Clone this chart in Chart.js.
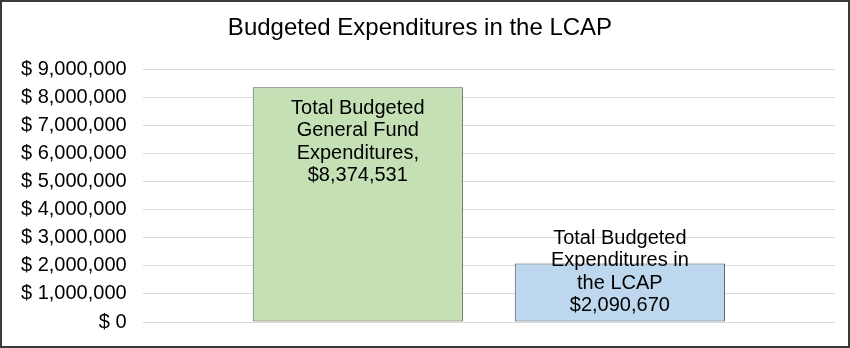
<!DOCTYPE html>
<html>
<head>
<meta charset="utf-8">
<script src="https://cdn.jsdelivr.net/npm/chart.js@4/dist/chart.umd.min.js"></script>
<style>
  html, body { margin: 0; padding: 0; background: #fff; }
  #wrap { position: relative; width: 850px; height: 348px; }
  #frame { position: absolute; left: 0; top: 0; width: 850px; height: 348px;
           box-sizing: border-box; border: 2px solid #3a3a3a; pointer-events: none; }
</style>
</head>
<body>
<div id="wrap">
  <canvas id="myChart" width="850" height="348"></canvas>
  <div id="frame"></div>
</div>
<script>
// Budgeted expenditures, two series in a single category
const categories = [''];
const seriesNames = ['Total Budgeted General Fund Expenditures', 'Total Budgeted Expenditures in the LCAP'];
const generalFund = [8374531];
const lcap = [2090670];
const barLabels = [
    ['Total Budgeted', 'General Fund', 'Expenditures,', '$8,374,531'],
    ['Total Budgeted', 'Expenditures in', 'the LCAP', '$2,090,670']
];
const yTicks = [0, 1000000, 2000000, 3000000, 4000000, 5000000, 6000000, 7000000, 8000000, 9000000];

const FONT = "'Liberation Sans', Arial, sans-serif";

// draws the multi-line labels on each bar
const barTextPlugin = {
    id: 'barText',
    afterDatasetsDraw(chart, args, opts) {
        const ctx = chart.ctx;
        ctx.save();
        ctx.font = '20px ' + FONT;
        ctx.fillStyle = '#000';
        ctx.textAlign = 'center';
        ctx.textBaseline = 'middle';
        chart.data.datasets.forEach((ds, i) => {
            const bar = chart.getDatasetMeta(i).data[0];
            const lines = barLabels[i];
            let y = bar.y + opts.offsets[i];
            lines.forEach(line => {
                ctx.fillText(line, bar.x, y);
                y += opts.lineHeight;
            });
        });
        ctx.restore();
    }
};

const ctx = document.getElementById('myChart').getContext('2d');
const myChart = new Chart(ctx, {
    type: 'bar',
    data: {
        labels: categories,
        datasets: [{
            label: seriesNames[0],
            data: generalFund,
            backgroundColor: '#c5e0b4',
            borderColor: '#555b52',
            borderWidth: 1,
            borderSkipped: false
        }, {
            label: seriesNames[1],
            data: lcap,
            backgroundColor: '#bdd7ee',
            borderColor: '#4a525b',
            borderWidth: 1,
            borderSkipped: false
        }]
    },
    options: {
        responsive: false,
        animation: false,
        categoryPercentage: 0.757,
        barPercentage: 0.802,
        layout: { padding: { left: 5, right: 15, top: 0, bottom: 26 } },
        scales: {
            x: {
                display: false
            },
            y: {
                min: 0,
                max: 9000000,
                afterBuildTicks: (axis) => { axis.ticks = yTicks.map(v => ({ value: v })); },
                afterFit: (axis) => { axis.paddingBottom = 12; },
                ticks: {
                    padding: 16,
                    color: '#000',
                    font: { family: FONT, size: 20 },
                    callback: (v) => '$ ' + v.toLocaleString('en-US')
                },
                grid: { color: '#d9d9d9', drawTicks: false },
                border: { display: false }
            }
        },
        plugins: {
            legend: { display: false },
            tooltip: { enabled: false },
            title: {
                display: true,
                text: 'Budgeted Expenditures in the LCAP',
                color: '#000',
                font: { family: FONT, size: 24, weight: 'normal' },
                padding: { top: 14, bottom: 27 }
            },
            barText: { offsets: [21, -25], lineHeight: 22.5 }
        }
    },
    plugins: [barTextPlugin]
});
</script>
</body>
</html>
